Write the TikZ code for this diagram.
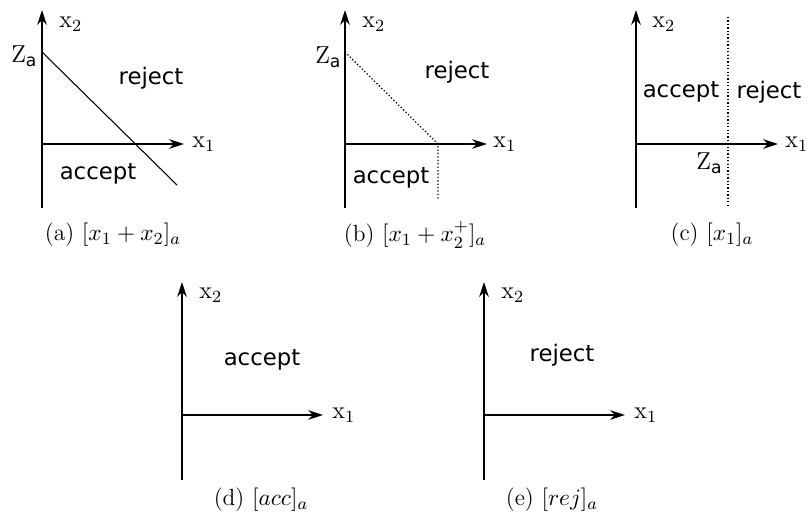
\documentclass[tikz,border=0pt]{standalone}
\usepackage{amsmath}
\usepackage{fontspec}
\newfontfamily\labelfont{DejaVu Sans}
\usetikzlibrary{arrows.meta}

\tikzset{
    axis/.style={line width=0.8pt, -{Stealth[length=7pt,width=4.5pt]}},
    bound/.style={line width=0.5pt},
    dotbound/.style={line width=0.6pt, densely dotted},
    region/.style={font=\fontsize{10.7}{12}\labelfont, inner sep=0pt},
    axlabel/.style={font=\fontsize{11.5}{13}\selectfont, inner sep=0pt},
    caption/.style={font=\fontsize{11}{13}\selectfont, inner sep=0pt},
}

\begin{document}
\begin{tikzpicture}[x=0.0165cm, y=0.0165cm]
    \useasboundingbox (0,0) rectangle (809,-529);

    % (a)
    \begin{scope}[shift={(42,-144)}]
        \coordinate (a-o) at (0,0);
        \coordinate (a-top) at (0,134);
        \coordinate (a-bot) at (0,-64);
        \coordinate (a-tip) at (142,0);
        \coordinate (a-za) at (0,92);
        \coordinate (a-end) at (135,-41);
        \draw[axis] (a-bot) -- (a-top);
        \draw[axis] (a-o) -- (a-tip);
        \draw[bound] (a-za) -- (a-end);
        \node[axlabel, anchor=west] (a-x1) at (150,0) {$\mathrm{x}_1$};
        \node[axlabel, anchor=west] (a-x2) at (17,120) {$\mathrm{x}_2$};
        \node[axlabel, anchor=east] (a-z) at (-4,88) {Z$_{\text{\labelfont a}}$};
        \node[region] (a-rej) at (109,66) {reject};
        \node[region] (a-acc) at (56,-30) {accept};
    \end{scope}
    \node[caption] (a-cap) at (113,-235) {(a) $[x_1+x_2]_a$};

    % (b)
    \begin{scope}[shift={(345,-144)}]
        \coordinate (b-o) at (0,0);
        \coordinate (b-top) at (0,134);
        \coordinate (b-bot) at (0,-64);
        \coordinate (b-tip) at (142,0);
        \coordinate (b-za) at (0,92);
        \coordinate (b-corner) at (93,0);
        \coordinate (b-low) at (93,-56);
        \draw[axis] (b-bot) -- (b-top);
        \draw[axis] (b-o) -- (b-tip);
        \draw[dotbound] (b-za) -- (b-corner) -- (b-low);
        \node[axlabel, anchor=west] (b-x1) at (148,0) {$\mathrm{x}_1$};
        \node[axlabel, anchor=west] (b-x2) at (17,120) {$\mathrm{x}_2$};
        \node[axlabel, anchor=east] (b-z) at (-3,87) {Z$_{\text{\labelfont a}}$};
        \node[region] (b-rej) at (112,72) {reject};
        \node[region] (b-acc) at (46,-34) {accept};
    \end{scope}
    \node[caption] (b-cap) at (415,-235) {(b) $[x_1+x_2^+]_a$};

    % (c)
    \begin{scope}[shift={(636,-144)}]
        \coordinate (c-o) at (0,0);
        \coordinate (c-top) at (0,134);
        \coordinate (c-bot) at (0,-64);
        \coordinate (c-tip) at (142,0);
        \coordinate (c-up) at (92,127);
        \coordinate (c-low) at (92,-61);
        \draw[axis] (c-bot) -- (c-top);
        \draw[axis] (c-o) -- (c-tip);
        \draw[dotbound] (c-up) -- (c-low);
        \node[axlabel, anchor=west] (c-x1) at (149,0) {$\mathrm{x}_1$};
        \node[axlabel, anchor=west] (c-x2) at (16,120) {$\mathrm{x}_2$};
        \node[axlabel, anchor=east] (c-z) at (87,-19) {Z$_{\text{\labelfont a}}$};
        \node[region] (c-acc) at (45,52) {accept};
        \node[region] (c-rej) at (133,52) {reject};
    \end{scope}
    \node[caption] (c-cap) at (712,-235) {(c) $[x_1]_a$};

    % (d)
    \begin{scope}[shift={(182,-415)}]
        \coordinate (d-o) at (0,0);
        \coordinate (d-top) at (0,133);
        \coordinate (d-bot) at (0,-65);
        \coordinate (d-tip) at (141,0);
        \draw[axis] (d-bot) -- (d-top);
        \draw[axis] (d-o) -- (d-tip);
        \node[axlabel, anchor=west] (d-x1) at (150,0) {$\mathrm{x}_1$};
        \node[axlabel, anchor=west] (d-x2) at (17,120) {$\mathrm{x}_2$};
        \node[region] (d-acc) at (80,55) {accept};
    \end{scope}
    \node[caption] (d-cap) at (261,-500) {(d) $[acc]_a$};

    % (e)
    \begin{scope}[shift={(484,-415)}]
        \coordinate (e-o) at (0,0);
        \coordinate (e-top) at (0,133);
        \coordinate (e-bot) at (0,-65);
        \coordinate (e-tip) at (141,0);
        \draw[axis] (e-bot) -- (e-top);
        \draw[axis] (e-o) -- (e-tip);
        \node[axlabel, anchor=west] (e-x1) at (150,0) {$\mathrm{x}_1$};
        \node[axlabel, anchor=west] (e-x2) at (17,120) {$\mathrm{x}_2$};
        \node[region] (e-rej) at (78,60) {reject};
    \end{scope}
    \node[caption] (e-cap) at (552,-500) {(e) $[rej]_a$};
\end{tikzpicture}
\end{document}
